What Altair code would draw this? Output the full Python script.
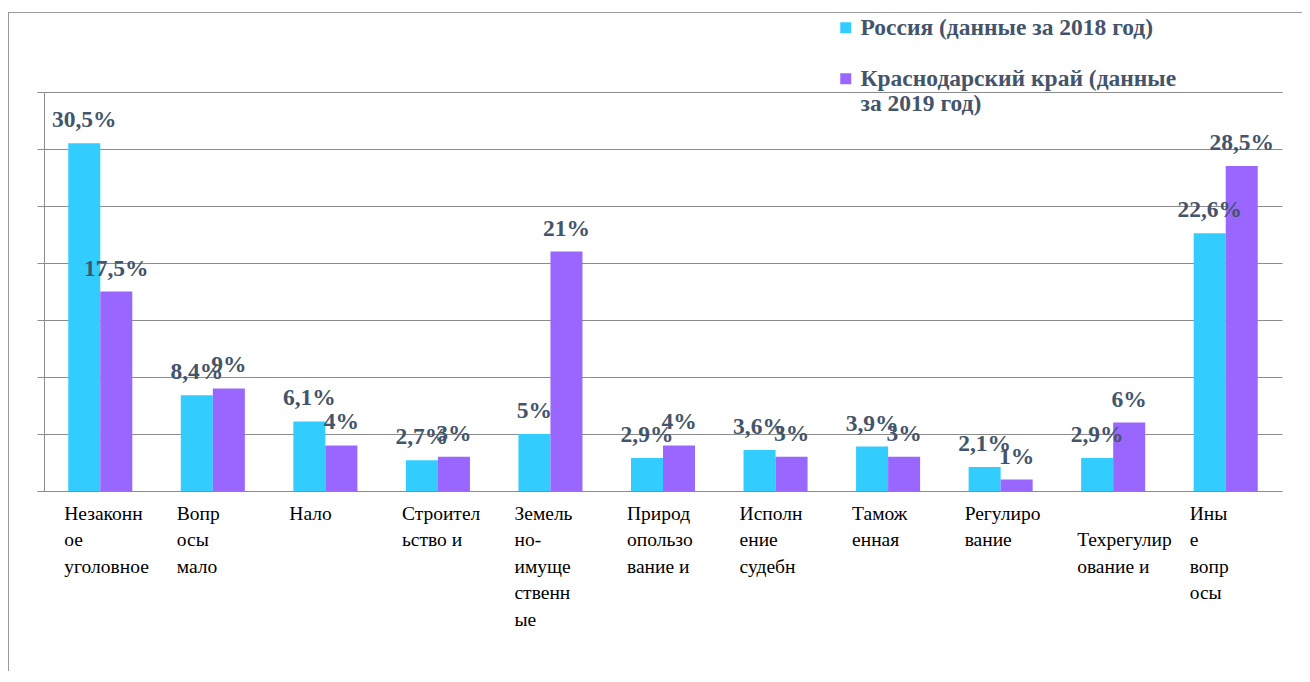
import altair as alt
import pandas as pd

categories = [
    "Незаконн\nое\nуголовное",
    "Вопр\nосы\nмало",
    "Нало",
    "Строител\nьство и",
    "Земель\nно-\nимуще\nственн\nые",
    "Природ\nопользо\nвание и",
    "Исполн\nение\nсудебн",
    "Тамож\nенная",
    "Регулиро\nвание",
    "\nТехрегулир\nование и",
    "Ины\nе\nвопр\nосы",
]
series = ["Россия (данные за 2018 год)", "Краснодарский край (данные\nза 2019 год)"]
russia = [30.5, 8.4, 6.1, 2.7, 5, 2.9, 3.6, 3.9, 2.1, 2.9, 22.6]
krasnodar = [17.5, 9, 4, 3, 21, 4, 3, 3, 1, 6, 28.5]
colors = ["#33CCFF", "#9966FF"]
y_ticks = [0, 5, 10, 15, 20, 25, 30, 35]

rows = []
for c, r, k in zip(categories, russia, krasnodar):
    rows.append({"category": c, "series": series[0], "value": r})
    rows.append({"category": c, "series": series[1], "value": k})
df = pd.DataFrame(rows)

W, H = 1238, 399
TEXT = "#44546A"
GRID = "#8C8C8C"
SERIF = "Liberation Serif"

base = alt.Chart(df).encode(
    x=alt.X(
        "category:N",
        sort=categories,
        scale=alt.Scale(paddingInner=0.431, paddingOuter=0.2156),
        axis=alt.Axis(
            title=None,
            ticks=False,
            domain=True,
            domainColor=GRID,
            labelAngle=0,
            labelAlign="left",
            labelBaseline="top",
            labelOffset=-36,
            labelPadding=13,
            labelFont=SERIF,
            labelFontSize=19.5,
            labelColor="#000000",
            labelLineHeight=26.5,
            labelLimit=200,
            labelExpr="split(datum.label, '\\n')",
        ),
    ),
    xOffset=alt.XOffset("series:N", sort=series, scale=alt.Scale(paddingInner=0, paddingOuter=0)),
    y=alt.Y(
        "value:Q",
        scale=alt.Scale(domain=[0, 35], nice=False),
        axis=alt.Axis(
            title=None,
            values=y_ticks,
            labels=False,
            tickSize=7,
            tickColor=GRID,
            domainColor=GRID,
            grid=True,
            gridColor=GRID,
            gridWidth=1,
        ),
    ),
)

bars = base.mark_bar().encode(
    color=alt.Color(
        "series:N",
        sort=series,
        scale=alt.Scale(domain=series, range=colors),
        legend=alt.Legend(
            title=None,
            orient="none",
            legendX=790,
            legendY=-76,
            direction="vertical",
            symbolType="square",
            symbolSize=121,
            symbolStrokeWidth=0,
            labelFont=SERIF,
            labelFontSize=23.5,
            labelFontWeight="bold",
            labelColor=TEXT,
            labelOffset=3,
            labelLimit=400,
            labelExpr="split(datum.label, '\\n')",
            rowPadding=26,
            padding=0,
        ),
    )
)

labels = base.transform_calculate(
    lbl="replace(toString(datum.value), '.', ',') + '%'"
).mark_text(
    font=SERIF, fontSize=23.5, fontWeight="bold", color=TEXT, baseline="alphabetic", dy=-16
).encode(text="lbl:N")

frame_df = pd.DataFrame({"k": [0]})
top_line = alt.Chart(frame_df).mark_rule(color="#9A9A9A", strokeWidth=1).encode(
    x=alt.value(-36), x2=alt.value(W + 40), y=alt.value(-79.5)
)
left_line = alt.Chart(frame_df).mark_rule(color="#9A9A9A", strokeWidth=1).encode(
    x=alt.value(-35.5), y=alt.value(-80), y2=alt.value(H + 200)
)

chart = alt.layer(bars, labels, top_line, left_line).properties(
    width=W,
    height=H,
    padding={"left": 36, "top": 84, "right": 20, "bottom": 180},
    autosize=alt.AutoSizeParams(type="none"),
).configure(
    background="#FFFFFF",
    view=alt.ViewConfig(stroke=None),
    style={"guide-label": {"lineHeight": 25}},
)

chart.save("out.html", embed_options={"renderer": "svg", "actions": False})
